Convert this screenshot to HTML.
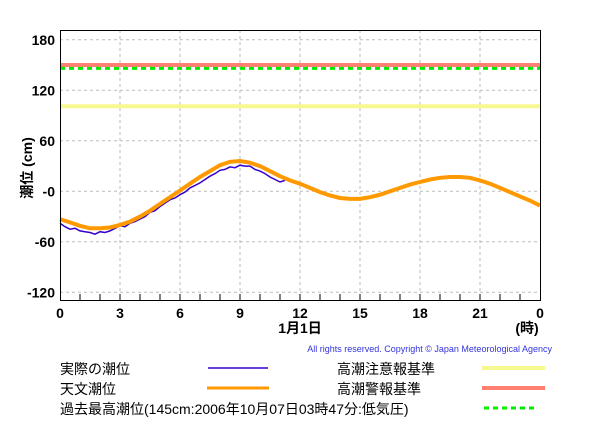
<!DOCTYPE html>
<html><head><meta charset="utf-8"><style>
html,body{margin:0;padding:0;background:#fff;width:600px;height:440px;overflow:hidden}
svg{display:block}
.t{font-family:"Liberation Sans","Noto Sans CJK JP",sans-serif;font-weight:bold;font-size:14px;fill:#000}
.l{font-family:"Liberation Sans","Noto Sans CJK JP",sans-serif;font-size:14px;fill:#000}
</style></head><body>
<svg width="600" height="440">
<g id="grid"></g>
<g id="thr"></g>
<g id="series"></g>
<rect x="60.5" y="30.5" width="480" height="270" fill="none" stroke="#000"/>
<g id="axes"></g>
<text class="t" x="300" y="333" text-anchor="middle">1月1日</text>
<text class="t" x="527" y="333" text-anchor="middle">(時)</text>
<text class="t" transform="translate(32,168) rotate(-90)" text-anchor="middle">潮位 (cm)</text>
<text x="552" y="352" text-anchor="end" font-family="Liberation Sans, sans-serif" font-size="9" fill="#3333dd">All rights reserved. Copyright © Japan Meteorological Agency</text>
<g>
<text class="l" x="60" y="374">実際の潮位</text>
<line x1="208" y1="368" x2="268" y2="368" stroke="#3300cc" stroke-width="1.5"/>
<text class="l" x="60" y="394">天文潮位</text>
<line x1="207" y1="388" x2="269" y2="388" stroke="#ff9900" stroke-width="3"/>
<text class="l" x="60" y="414">過去最高潮位(145cm:2006年10月07日03時47分:低気圧)</text>
<line x1="484" y1="408" x2="538" y2="408" stroke="#00ee00" stroke-width="3" stroke-dasharray="5,4"/>
<text class="l" x="337" y="374">高潮注意報基準</text>
<line x1="482" y1="368" x2="545" y2="368" stroke="#f8f890" stroke-width="4"/>
<text class="l" x="337" y="394">高潮警報基準</text>
<line x1="482" y1="388" x2="545" y2="388" stroke="#ff8070" stroke-width="4"/>
</g>
</svg>
<script>
const yTicks=[180,120,60,0,-60,-120];
const yTickLabels=["180","120","60","-0","-60","-120"];
const xTicks=[0,3,6,9,12,15,18,21,24];
const xTickLabels=["0","3","6","9","12","15","18","21","0"];
const astroHours=[0,0.5,1,1.5,2,2.5,3,3.5,4,4.5,5,5.5,6,6.5,7,7.5,8,8.5,9,9.5,10,10.5,11,11.5,12,12.5,13,13.5,14,14.5,15,15.5,16,16.5,17,17.5,18,18.5,19,19.5,20,20.5,21,21.5,22,22.5,23,23.5,24];
const astroValues=[-33,-37,-41,-44,-44,-43,-40,-36,-30,-23,-15,-7,1,9,17,24,31,35,36,34,30,24,18,13,9,4,-1,-5,-8,-9,-9,-7,-4,0,4,8,11,14,16,17,17,16,13,9,4,-1,-6,-11,-17];
const obsHours=[0,0.25,0.5,0.75,1,1.25,1.5,1.75,2,2.25,2.5,2.75,3,3.25,3.5,3.75,4,4.25,4.5,4.75,5,5.25,5.5,5.75,6,6.25,6.5,6.75,7,7.25,7.5,7.75,8,8.25,8.5,8.75,9,9.25,9.5,9.75,10,10.25,10.5,10.75,11,11.25];
const obsValues=[-38,-42,-45,-44,-47,-48,-49,-51,-48,-49,-47,-44,-41,-42,-38,-36,-33,-30,-25,-23,-18,-14,-10,-8,-4,-1,4,7,10,14,18,21,25,26,29,28,31,30,30,26,24,21,17,14,11,13];
const thrValues={warning:150,record:146,advisory:101};
const NS="http://www.w3.org/2000/svg";
const X=h=>60+h*20;
const Y=v=>191.3-v*50.5/60;
function el(t,a,p){const e=document.createElementNS(NS,t);for(const k in a)e.setAttribute(k,a[k]);p.appendChild(e);return e;}
const grid=document.getElementById('grid'),axes=document.getElementById('axes'),thr=document.getElementById('thr'),ser=document.getElementById('series');
yTicks.forEach((v,i)=>{
 const g=el('line',{x1:60,x2:540,y1:Y(v),y2:Y(v),stroke:'#bbb','stroke-dasharray':'3,3'},grid);
 
 
 const t=el('text',{x:55,y:Y(v)+5,'text-anchor':'end',class:'t'},axes);t.textContent=yTickLabels[i];
 
 
});
xTicks.forEach((h,i)=>{
 if(h>0&&h<24){const g=el('line',{x1:X(h),x2:X(h),y1:30,y2:300,stroke:'#bbb','stroke-dasharray':'3,3'},grid);
 
 }
 const t=el('text',{x:X(h),y:318,'text-anchor':'middle',class:'t'},axes);t.textContent=xTickLabels[i];
 
 
});
for(let h=1;h<24;h++){const m=el('line',{x1:X(h),x2:X(h),y1:294,y2:300,stroke:'#000'},axes);
 
 }
[['warning','#ff8070',4,null],['record','#00ee00',3,'5,4'],['advisory','#f8f890',4,null]].forEach(([k,c,w,d])=>{
 const a={x1:60,x2:540,y1:Y(thrValues[k]),y2:Y(thrValues[k]),stroke:c,'stroke-width':w};
 if(d)a['stroke-dasharray']=d;
 const l=el('line',a,thr);
 
 
});
function path(hs,vs){return hs.map((h,i)=>(i?'L':'M')+X(h).toFixed(1)+','+Y(vs[i]).toFixed(1)).join('');}
const ob=el('path',{d:path(obsHours,obsValues),fill:'none',stroke:'#3300cc','stroke-width':1.5},ser);


const as=el('path',{d:path(astroHours,astroValues),fill:'none',stroke:'#ff9900','stroke-width':4},ser);


</script>
</body></html>
